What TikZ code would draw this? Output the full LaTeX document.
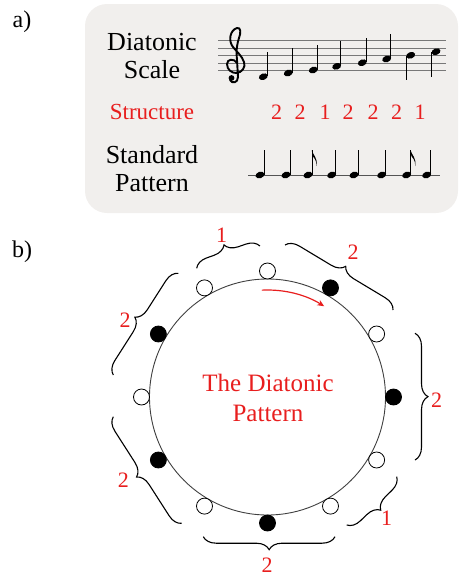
\documentclass[tikz,border=0pt]{standalone}
\usepackage{fontspec}
\setmainfont{Liberation Serif}
\usetikzlibrary{decorations.pathreplacing,arrows.meta}
\definecolor{boxbg}{RGB}{241,239,237}
\definecolor{myred}{RGB}{232,30,30}
\definecolor{staffgray}{RGB}{120,120,120}
\newcommand\qnoteup[2]{%
  \fill[rotate around={20:(#1,-#2)}] (#1,-#2) ellipse (4.6 and 3.2);
  \draw[line width=0.9] (#1+4.2,-#2+0.5) -- (#1+4.2,-#2+25);}
\newcommand\qnotedown[2]{%
  \fill[rotate around={20:(#1,-#2)}] (#1,-#2) ellipse (4.6 and 3.2);
  \draw[line width=0.9] (#1-4.2,-#2-0.5) -- (#1-4.2,-#2-25);}
\newcommand\enoteup[2]{%
  \qnoteup{#1}{#2}
  \fill (#1+3.75,-#2+25) .. controls (#1+5,-#2+20) and (#1+10,-#2+17) .. (#1+8.5,-#2+9)
     .. controls (#1+9,-#2+15) and (#1+5,-#2+18) .. (#1+4.65,-#2+19) -- cycle;}
\begin{document}
\begin{tikzpicture}[x=1pt,y=1pt,
  lbl/.style={font=\fontsize{24}{24}\selectfont, inner sep=0},
  big/.style={font=\fontsize{26}{28}\selectfont, align=center, inner sep=0},
  num/.style={font=\fontsize{22}{22}\selectfont, text=myred, inner sep=0},
  dotw/.style={circle, draw, line width=0.8, fill=white, minimum size=16, inner sep=0},
  dotb/.style={circle, draw, line width=0.8, fill=black, minimum size=16, inner sep=0},
  bracestyle/.style={draw, line width=1.1, decorate, decoration={brace, amplitude=13}},
  staff/.style={draw=staffgray, line width=0.9},
  clefline/.style={line width=1.9, line cap=round, line join=round}]
\useasboundingbox (0,0) rectangle (460,-576);
% ---------- panel a
\node[lbl] (la) at (22,-22) {a)};
\fill[boxbg, rounded corners=22] (85,-4) rectangle (458,-213);
\node[big] (ds) at (152,-56) {Diatonic\\Scale};
\node[font=\fontsize{23}{23}\selectfont, text=myred, inner sep=0] (st) at (152,-112) {Structure};
\node[big] (sp) at (152,-169) {Standard\\Pattern};
% staff
\foreach \yy in {40.7,48.3,55.7,63,70.3} \draw[staff] (218,-\yy) -- (446,-\yy);
% treble clef (drawn)
\draw[clefline] (237,-63) .. controls (234,-58) and (227,-59) .. (227,-64)
  .. controls (227,-70) and (232,-73) .. (236,-73)
  .. controls (242,-73) and (246,-67) .. (244,-62)
  .. controls (242,-56) and (237,-52) .. (233,-47)
  .. controls (228,-41) and (230,-30) .. (237,-28)
  .. controls (241,-27) and (241,-33) .. (239,-38)
  .. controls (237,-44) and (236,-50) .. (237,-60)
  -- (238,-77)
  .. controls (238,-83) and (232,-84) .. (230,-80);
\fill (231.5,-78) circle (2.9);
\qnoteup{263.3}{76.7}
\qnoteup{288.3}{73.0}
\qnoteup{313.3}{70.0}
\qnoteup{336.7}{66.3}
\qnoteup{362.3}{62.7}
\qnoteup{386.7}{59.0}
\qnotedown{410.7}{55.3}
\qnotedown{436.0}{51.7}
% structure numbers
\foreach \xx/\n [count=\i] in {276.7/2,300/2,325/1,348/2,373/2,396.7/2,420/1}
  \node[num] (s\i) at (\xx,-112) {\n};
% standard pattern
\draw[line width=0.9, staffgray!70!black] (248,-175) -- (440,-175);
\qnoteup{260}{175}
\qnoteup{286}{175}
\enoteup{308}{175}
\qnoteup{331.7}{175}
\qnoteup{354}{175}
\qnoteup{381.7}{175}
\enoteup{406.7}{175}
\qnoteup{426.7}{175}
% ---------- panel b
\node[lbl] (lb) at (22,-252) {b)};
\coordinate (C) at (267.5,-397);
\draw[line width=0.9, black!75] (C) circle (118);
\foreach \a in {90,30,-30,-60,-120,180,120}
  \node[dotw] (w\a) at ([shift={(\a:126)}]C) {};
\foreach \a in {60,0,-90,-150,150}
  \node[dotb] (b\a) at ([shift={(\a:126)}]C) {};
\draw[myred, line width=1.2, -{Stealth[length=7pt,width=6pt]}] ([shift={(93:107)}]C) arc[start angle=93, end angle=58, radius=107];
\node[font=\fontsize{25}{30}\selectfont, text=myred, align=center, inner sep=0] (title) at (268,-398) {The Diatonic\\Pattern};
% braces
\coordinate (p1a) at (196.7,-268.3); \coordinate (p1b) at (260,-246);
\coordinate (p2a) at (285,-245);     \coordinate (p2b) at (393,-310);
\coordinate (p3a) at (415,-333.3);   \coordinate (p3b) at (415,-460);
\coordinate (p4a) at (396.7,-476.7); \coordinate (p4b) at (346.7,-525);
\coordinate (p5a) at (335,-536.7);   \coordinate (p5b) at (203.3,-536.7);
\coordinate (p6a) at (181.7,-523.3); \coordinate (p6b) at (113.3,-416.7);
\coordinate (p7a) at (113.3,-375);   \coordinate (p7b) at (178.3,-273.3);
\foreach \i in {1,...,7} \path[bracestyle] (p\i a) -- (p\i b);
\node[num] (n1) at (221.7,-235) {1};
\node[num] (n2) at (353,-252) {2};
\node[num] (n3) at (436.7,-400) {2};
\node[num] (n4) at (386.7,-518.3) {1};
\node[num] (n5) at (267,-565) {2};
\node[num] (n6) at (123.3,-480) {2};
\node[num] (n7) at (125,-320) {2};
\end{tikzpicture}
\end{document}
